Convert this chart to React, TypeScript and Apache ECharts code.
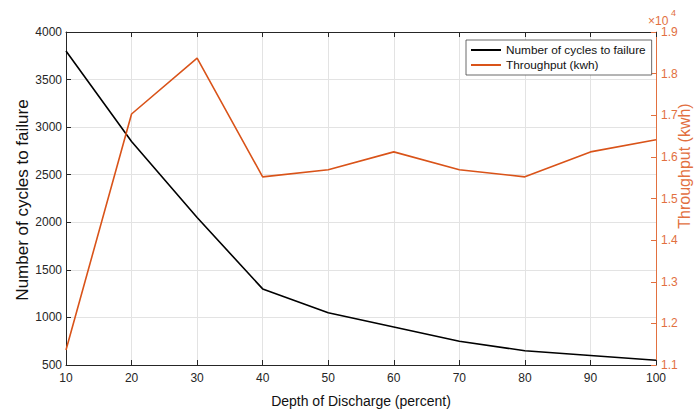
import React, { useEffect, useRef } from "react";
import * as echarts from "echarts";

const depth = [10, 20, 30, 40, 50, 60, 70, 80, 90, 100];
const cycles = [3800, 2850, 2050, 1300, 1050, 900, 750, 650, 600, 550];
const throughput = [11360, 17030, 18370, 15520, 15690, 16120, 15690, 15520, 16120, 16410];
const seriesNames = ["Number of cycles to failure", "Throughput (kwh)"];

const FONT = "'Liberation Sans', Arial, Helvetica, sans-serif";
const DARK = "#262626";
const ORANGE = "#D95319";
const ORANGE_AX = "#E2703F";

export default function App() {
  const ref = useRef<HTMLDivElement>(null);
  useEffect(() => {
    if (!ref.current) return;
    const chart = echarts.init(ref.current, null, { renderer: "svg" });
    chart.setOption({
      animation: false,
      backgroundColor: "#fff",
      textStyle: { fontFamily: FONT },
      grid: { left: 66, right: 39, top: 32, bottom: 48 },
      legend: {
        left: 466,
        top: 40,
        orient: "vertical",
        icon: "rect",
        itemWidth: 30,
        itemHeight: 2,
        itemGap: 3,
        padding: [4, 6, 4, 5],
        borderColor: "#444",
        borderWidth: 0.8,
        backgroundColor: "#fff",
        textStyle: { fontSize: 11.8, color: "#111", fontFamily: FONT },
        data: seriesNames,
      },
      xAxis: [
        {
          type: "value",
          min: 10,
          max: 100,
          interval: 10,
          position: "bottom",
          axisLine: { show: true, lineStyle: { color: DARK, width: 1 } },
          axisTick: { show: true, inside: true, length: 5, lineStyle: { color: DARK } },
          axisLabel: { color: DARK, fontSize: 12, margin: 7, fontFamily: FONT },
          splitLine: { show: true, lineStyle: { color: "#E3E3E3", width: 1 } },
        },
        {
          type: "value",
          min: 10,
          max: 100,
          interval: 10,
          position: "top",
          axisLine: { show: true, lineStyle: { color: DARK, width: 1 } },
          axisTick: { show: true, inside: true, length: 5, lineStyle: { color: DARK } },
          axisLabel: { show: false },
          splitLine: { show: false },
        },
      ],
      yAxis: [
        {
          type: "value",
          min: 500,
          max: 4000,
          interval: 500,
          position: "left",
          axisLine: { show: true, lineStyle: { color: DARK, width: 1 } },
          axisTick: { show: true, inside: true, length: 5, lineStyle: { color: DARK } },
          axisLabel: {
            color: DARK,
            fontSize: 12,
            margin: 4,
            fontFamily: FONT,
            formatter: (v: number) => String(v),
          },
          splitLine: { show: true, lineStyle: { color: "#E3E3E3", width: 1 } },
        },
        {
          type: "value",
          min: 11000,
          max: 19000,
          interval: 1000,
          position: "right",
          axisLine: { show: true, lineStyle: { color: ORANGE_AX, width: 1 } },
          axisTick: { show: true, inside: true, length: 5, lineStyle: { color: ORANGE_AX } },
          axisLabel: {
            color: ORANGE_AX,
            fontSize: 12,
            margin: 5,
            fontFamily: FONT,
            formatter: (v: number) => (v / 10000).toFixed(1),
          },
          splitLine: { show: false },
        },
      ],
      series: [
        {
          name: seriesNames[0],
          type: "line",
          xAxisIndex: 0,
          yAxisIndex: 0,
          symbol: "none",
          data: depth.map((d, i) => [d, cycles[i]]),
          lineStyle: { color: "#000", width: 1.6 },
          itemStyle: { color: "#000" },
        },
        {
          name: seriesNames[1],
          type: "line",
          xAxisIndex: 0,
          yAxisIndex: 1,
          symbol: "none",
          data: depth.map((d, i) => [d, throughput[i]]),
          lineStyle: { color: ORANGE, width: 1.6 },
          itemStyle: { color: ORANGE },
        },
      ],
      graphic: [
        {
          type: "text",
          x: 22,
          y: 200,
          rotation: Math.PI / 2,
          style: {
            text: "Number of cycles to failure",
            fontSize: 17,
            fontFamily: FONT,
            fill: "#111",
            align: "center",
            verticalAlign: "middle",
          },
        },
        {
          type: "text",
          x: 361,
          y: 401,
          style: {
            text: "Depth of Discharge (percent)",
            fontSize: 14,
            fontFamily: FONT,
            fill: "#111",
            align: "center",
            verticalAlign: "middle",
          },
        },
        {
          type: "text",
          x: 684,
          y: 166,
          rotation: Math.PI / 2,
          style: {
            text: "Throughput (kwh)",
            fontSize: 16,
            fontFamily: FONT,
            fill: ORANGE_AX,
            align: "center",
            verticalAlign: "middle",
          },
        },
        {
          type: "text",
          x: 648,
          y: 21,
          style: {
            text: "×10",
            fontSize: 12,
            fontFamily: FONT,
            fill: ORANGE_AX,
            align: "left",
            verticalAlign: "middle",
          },
        },
        {
          type: "text",
          x: 671,
          y: 13,
          style: {
            text: "4",
            fontSize: 9,
            fontFamily: FONT,
            fill: ORANGE_AX,
            align: "left",
            verticalAlign: "middle",
          },
        },
      ],
    });
    return () => chart.dispose();
  }, []);
  return (
    <div
      ref={ref}
      style={{ position: "fixed", left: 0, top: 0, width: 695, height: 413 }}
    />
  );
}
